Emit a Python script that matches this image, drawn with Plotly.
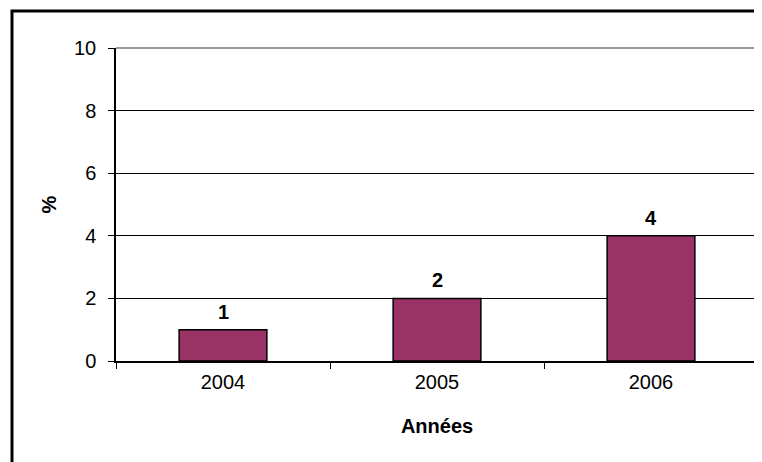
import plotly.graph_objects as go

# Données
annees = ["2004", "2005", "2006"]
valeurs = [1, 2, 4]
y_ticks = [0, 2, 4, 6, 8, 10]

BAR_COLOR = "#993366"
FONT = "Arial, Liberation Sans, sans-serif"

# la page HTML ajoute 8px de marge au body : on compense
W, H = 754, 454

fig = go.Figure(go.Bar(
    x=annees,
    y=valeurs,
    width=0.41,
    marker=dict(color=BAR_COLOR, line=dict(color="black", width=1.5)),
))

# étiquettes de valeurs au-dessus des barres (x = index de catégorie)
for i, v in enumerate(valeurs):
    fig.add_annotation(
        x=i, y=v, text=f"<b>{v}</b>", showarrow=False,
        yanchor="bottom", yshift=5,
        font=dict(family=FONT, size=20, color="black"),
    )

title_font = dict(family=FONT, size=20, color="black")

fig.update_layout(
    width=W,
    height=H,
    margin=dict(l=108, r=4, t=40, b=101),
    paper_bgcolor="white",
    plot_bgcolor="white",
    font=dict(family=FONT, size=20, color="black"),
    showlegend=False,
    xaxis=dict(
        type="category",
        range=[-0.5, len(annees) - 0.5],
        tickson="boundaries",
        ticks="outside",
        ticklen=6,
        tickcolor="black",
        tickangle=0,
        showline=True,
        linecolor="black",
        linewidth=1.5,
        showgrid=False,
        ticklabelstandoff=2,
        title=dict(text="<b>Années</b>", font=title_font, standoff=27),
    ),
    yaxis=dict(
        range=[0, 10],
        tickvals=y_ticks,
        ticks="outside",
        ticklen=6,
        tickcolor="black",
        showline=True,
        linecolor="black",
        linewidth=1.5,
        showgrid=True,
        gridcolor="black",
        gridwidth=1,
        zeroline=False,
        ticklabelstandoff=8,
        title=dict(text="<b>%</b>", font=title_font, standoff=12),
    ),
    shapes=[
        # bord haut/droit de la zone de tracé (gris)
        dict(type="line", xref="paper", yref="paper", x0=0, x1=1, y0=1, y1=1,
             line=dict(color="#9a9a9a", width=2)),
        dict(type="line", xref="paper", yref="paper", x0=1, x1=1, y0=0, y1=1,
             line=dict(color="#9a9a9a", width=2)),
        # cadre extérieur
        dict(type="rect", xref="paper", yref="paper",
             x0=-0.162, x1=1.1, y0=-0.6, y1=1.118,
             line=dict(color="black", width=3), layer="above"),
    ],
)

fig.write_html("out.html")
